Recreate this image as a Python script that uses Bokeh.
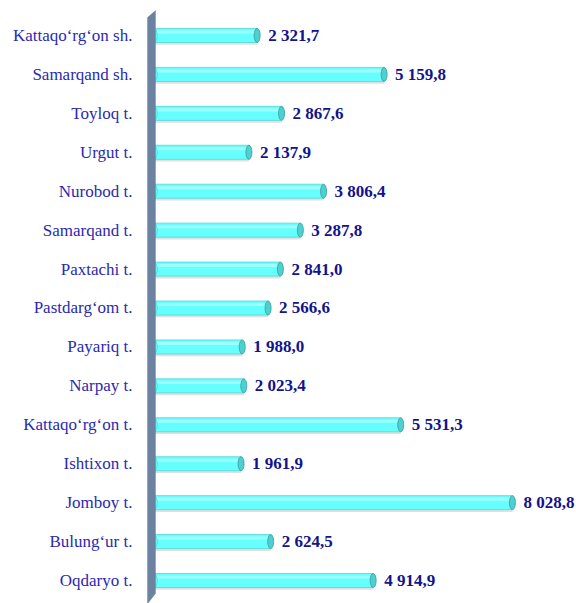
from bokeh.plotting import figure
from bokeh.models import ColumnDataSource, Range1d, PolyAnnotation
from bokeh.core.properties import value
from bokeh.embed import file_html
from bokeh.resources import INLINE

# Data (top to bottom as in the chart)
districts = ["Kattaqo‘rg‘on sh.", "Samarqand sh.", "Toyloq t.", "Urgut t.", "Nurobod t.",
             "Samarqand t.", "Paxtachi t.", "Pastdarg‘om t.", "Payariq t.", "Narpay t.",
             "Kattaqo‘rg‘on t.", "Ishtixon t.", "Jomboy t.", "Bulung‘ur t.", "Oqdaryo t."]
values = [2321.7, 5159.8, 2867.6, 2137.9, 3806.4,
          3287.8, 2841.0, 2566.6, 1988.0, 2023.4,
          5531.3, 1961.9, 8028.8, 2624.5, 4914.9]

def fmt(v):
    s = f"{v:,.1f}"
    return s.replace(",", " ").replace(".", ",")

SERIF = "Liberation Serif"

n = len(districts)
ypos = [n - 1 - i for i in range(n)]
labels_txt = [fmt(v) for v in values]

px_per_unit = 0.04473
x_start, x_end = -3416, 9461
x_wall = -130  # left edge of the decorative wall (data units)

src = ColumnDataSource(dict(y=ypos, v=values, lab=labels_txt, name=districts,
                            zero=[0] * n, wallx=[x_wall] * n,
                            ysh=[y - 0.06 for y in ypos],
                            yhi=[y + 0.09 for y in ypos]))

p = figure(width=576, height=603, output_backend="svg", toolbar_location=None,
           x_range=Range1d(x_start, x_end), y_range=Range1d(-0.591, 14.899),
           min_border_left=0, min_border_right=0, min_border_top=0, min_border_bottom=0)
p.outline_line_color = None
p.grid.visible = False
p.axis.visible = False
p.background_fill_color = "white"
p.border_fill_color = "white"

# shadow
p.hbar(y="ysh", left="zero", right="v", height=0.36, source=src,
       fill_color="#e0e0e0", line_color=None)
# bars
p.hbar(y="y", left="zero", right="v", height=0.36, source=src,
       fill_color="#66ffff", line_color="#55d5d5", line_width=0.8)
p.hbar(y="yhi", left="zero", right="v", height=0.08, source=src,
       fill_color="#9effff", line_color=None)
# left rounded cap
p.ellipse(x="zero", y="y", width=8, height=14, width_units="screen", height_units="screen",
          source=src, fill_color="#66ffff", line_color="#55d5d5", line_width=0.8)
# right end cap
p.ellipse(x="v", y="y", width=6, height=14, width_units="screen", height_units="screen",
          source=src, fill_color="#4fd0d0", line_color="#3a9a9a", line_width=0.8)

# value labels
p.text(x="v", y="y", text="lab", source=src, x_offset=11, text_baseline="middle",
       text_align="left", text_font=value(SERIF), text_font_style="bold",
       text_font_size="17px", text_color="#13138c")

# category labels
p.text(x="wallx", y="y", text="name", source=src, x_offset=-15, text_baseline="middle",
       text_align="right", text_font=value(SERIF),
       text_font_size="17px", text_color="#2a2ab0")

# wall (decorative panel at the left of the bars)
w = 8 / px_per_unit
wall = PolyAnnotation(xs=[x_wall, x_wall + w, x_wall + w, x_wall],
                      ys=[14.46, 14.64, -0.334, -0.6],
                      fill_color="#6b83a0", fill_alpha=1.0, line_color="#56708e", line_width=1)
p.add_layout(wall)

open("out.html", "w").write(file_html(p, INLINE))
